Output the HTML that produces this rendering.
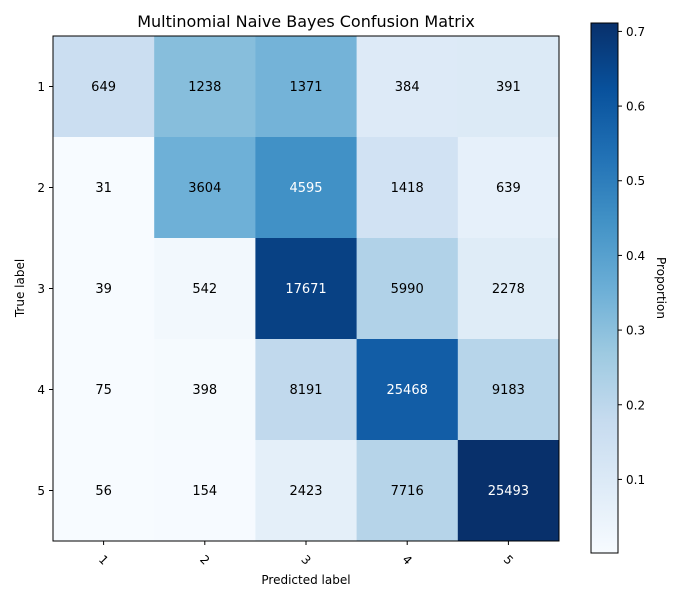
<!DOCTYPE html>
<html><head><meta charset="utf-8"><style>
body{margin:0;background:#fff}
svg text{font-family:"DejaVu Sans","Liberation Sans",sans-serif}
</style></head><body>
<svg id="c" width="700" height="600" xmlns="http://www.w3.org/2000/svg"></svg>
<script>
const labels=["1","2","3","4","5"];
const row1=[649,1238,1371,384,391];
const row2=[31,3604,4595,1418,639];
const row3=[39,542,17671,5990,2278];
const row4=[75,398,8191,25468,9183];
const row5=[56,154,2423,7716,25493];
const cbTicks=[0.1,0.2,0.3,0.4,0.5,0.6,0.7];
const rows=[row1,row2,row3,row4,row5];
const NS="http://www.w3.org/2000/svg";
const svg=document.getElementById('c');
function el(t,a,p){const e=document.createElementNS(NS,t);for(const k in a)e.setAttribute(k,a[k]);(p||svg).appendChild(e);return e;}
const stops=["#f7fbff","#deebf7","#c6dbef","#9ecae1","#6baed6","#4292c6","#2171b5","#08519c","#08306b"];
function hx(h){return [1,3,5].map(i=>parseInt(h.substr(i,2),16));}
function cmap(t){t=Math.max(0,Math.min(1,t));const f=t*8,i=Math.min(7,Math.floor(f)),r=f-i;const a=hx(stops[i]),b=hx(stops[i+1]);return `rgb(${a.map((v,k)=>Math.round(v+(b[k]-v)*r)).join(',')})`;}
const props=rows.map(r=>{const s=r.reduce((a,b)=>a+b,0);return r.map(v=>v/s);});
let vmin=Infinity,vmax=-Infinity;props.forEach(r=>r.forEach(v=>{vmin=Math.min(vmin,v);vmax=Math.max(vmax,v);}));
const X0=53,X1=559,Y0=36,Y1=541,n=labels.length;
const cw=(X1-X0)/n,ch=(Y1-Y0)/n;
const xs=j=>X0+j*cw, ys=i=>Y0+i*ch;
const norm=v=>(v-vmin)/(vmax-vmin);
const thresh=vmax/2;
const title=el('text',{x:306,y:27,'text-anchor':'middle','font-size':16});title.textContent="Multinomial Naive Bayes Confusion Matrix";


rows.forEach((r,i)=>r.forEach((v,j)=>{
  const p=props[i][j];
  const rc=el('rect',{x:xs(j),y:ys(i),width:cw+0.5,height:ch+0.5,fill:cmap(norm(p))});
  
  
  const t=el('text',{x:xs(j)+cw/2,y:ys(i)+ch/2+4.5,'text-anchor':'middle','font-size':13,fill:p>thresh?'#fff':'#000'});
  t.textContent=v;
  
  
}));
el('rect',{x:X0,y:Y0,width:X1-X0,height:Y1-Y0,fill:'none',stroke:'#000','stroke-width':1});
labels.forEach((l,k)=>{
  const cx=xs(k)+cw/2;
  el('line',{x1:cx,x2:cx,y1:Y1,y2:Y1+4,stroke:'#000'});
  const t=el('text',{x:cx,y:Y1+23,'text-anchor':'middle','font-size':12,transform:`rotate(45 ${cx} ${Y1+19})`});t.textContent=l;
  
  
  const cy=ys(k)+ch/2;
  el('line',{x1:X0-4,x2:X0,y1:cy,y2:cy,stroke:'#000'});
  const u=el('text',{x:X0-8,y:cy+4.5,'text-anchor':'end','font-size':12});u.textContent=l;
  
  
});
const xl=el('text',{x:306,y:584,'text-anchor':'middle','font-size':12});xl.textContent="Predicted label";


const yl=el('text',{x:24,y:288,'text-anchor':'middle','font-size':12,transform:'rotate(-90 24 288)'});yl.textContent="True label";


const CX=591,CW=27,CT=23,CB=553;
const cy=v=>CB-(v-vmin)/(vmax-vmin)*(CB-CT);
const defs=el('defs',{});const g=el('linearGradient',{id:'g',x1:0,y1:1,x2:0,y2:0},defs);
for(let k=0;k<=8;k++)el('stop',{offset:k/8,'stop-color':stops[k]},g);
const cb=el('rect',{x:CX,y:CT,width:CW,height:CB-CT,fill:'url(#g)',stroke:'#000','stroke-width':1});


cbTicks.forEach(v=>{const y=cy(v);el('line',{x1:CX+CW,x2:CX+CW+4,y1:y,y2:y,stroke:'#000'});
  const t=el('text',{x:CX+CW+8,y:y+4.5,'font-size':12});t.textContent=v.toFixed(1);
  
  });
const cl=el('text',{x:657,y:288,'text-anchor':'middle','font-size':12,transform:'rotate(90 657 288)'});cl.textContent="Proportion";


</script>
</body></html>
